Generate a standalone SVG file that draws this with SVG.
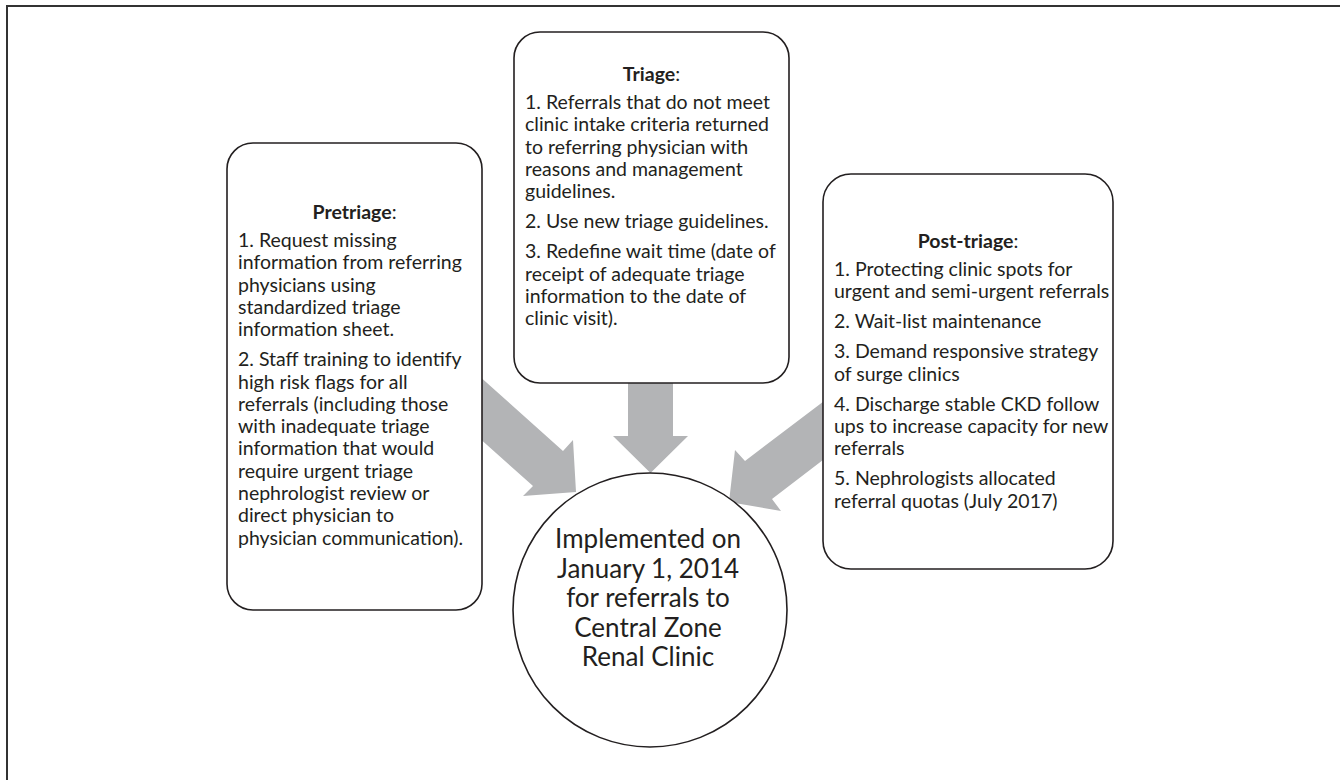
<svg xmlns="http://www.w3.org/2000/svg" width="1340" height="780" viewBox="0 0 1340 780">
<style>
.box{fill:#fff;stroke:#231f20;stroke-width:1.6}
.arr{fill:#b3b4b6;stroke:none}
.t{font-family:Lato,"Open Sans","Liberation Sans",sans-serif;font-size:19.5px;fill:#231f20}
.h{text-anchor:middle}
.b{font-weight:bold}
.c{font-family:Lato,"Open Sans","Liberation Sans",sans-serif;font-size:26px;fill:#231f20;text-anchor:middle}
.frame{stroke:#333;stroke-width:2;fill:none}
</style>
<rect width="1340" height="780" fill="#fff"/>
<path class="frame" d="M7,780 V6 H1340"/>
<g id="connectors">
<polygon class="arr" points="468,366 563,451 573,440 576,492 523,496 533,486 468,428"/>
<polygon class="arr" points="628,370 673,370 673,436 688,436 650.5,473 613,436 628,436"/>
<polygon class="arr" points="836,392 745,461 735,450 729,502 781,511 772,499 836,450"/>
</g>
<g id="pretriage">
<rect class="box" x="227" y="143" width="255" height="467" rx="26"/>
<text class="t h" x="354.5" y="219"><tspan class="b">Pretriage</tspan>:</text>
<text class="t" x="238" y="247">1. Request missing</text>
<text class="t" x="238" y="269.3">information from referring</text>
<text class="t" x="238" y="291.6">physicians using</text>
<text class="t" x="238" y="313.9">standardized triage</text>
<text class="t" x="238" y="336.2">information sheet.</text>
<text class="t" x="238" y="366.2">2. Staff training to identify</text>
<text class="t" x="238" y="388.5">high risk flags for all</text>
<text class="t" x="238" y="410.8">referrals (including those</text>
<text class="t" x="238" y="433.1">with inadequate triage</text>
<text class="t" x="238" y="455.4">information that would</text>
<text class="t" x="238" y="477.7">require urgent triage</text>
<text class="t" x="238" y="500">nephrologist review or</text>
<text class="t" x="238" y="522.3">direct physician to</text>
<text class="t" x="238" y="544.6">physician communication).</text>
</g>
<g id="triage">
<rect class="box" x="514" y="32" width="275" height="351" rx="26"/>
<text class="t h" x="651.5" y="81"><tspan class="b">Triage</tspan>:</text>
<text class="t" x="525" y="109">1. Referrals that do not meet</text>
<text class="t" x="525" y="131.3">clinic intake criteria returned</text>
<text class="t" x="525" y="153.6">to referring physician with</text>
<text class="t" x="525" y="175.9">reasons and management</text>
<text class="t" x="525" y="198.2">guidelines.</text>
<text class="t" x="525" y="228.2">2. Use new triage guidelines.</text>
<text class="t" x="525" y="258.2">3. Redefine wait time (date of</text>
<text class="t" x="525" y="280.5">receipt of adequate triage</text>
<text class="t" x="525" y="302.8">information to the date of</text>
<text class="t" x="525" y="325.1">clinic visit).</text>
</g>
<g id="posttriage">
<rect class="box" x="823" y="174" width="290" height="395" rx="28"/>
<text class="t h" x="968" y="248"><tspan class="b">Post-triage</tspan>:</text>
<text class="t" x="834" y="276">1. Protecting clinic spots for</text>
<text class="t" x="834" y="298.3">urgent and semi-urgent referrals</text>
<text class="t" x="834" y="328.3">2. Wait-list maintenance</text>
<text class="t" x="834" y="358.3">3. Demand responsive strategy</text>
<text class="t" x="834" y="380.6">of surge clinics</text>
<text class="t" x="834" y="410.6">4. Discharge stable CKD follow</text>
<text class="t" x="834" y="432.9">ups to increase capacity for new</text>
<text class="t" x="834" y="455.2">referrals</text>
<text class="t" x="834" y="485.2">5. Nephrologists allocated</text>
<text class="t" x="834" y="507.5">referral quotas (July 2017)</text>
</g>
<g id="implemented">
<circle class="box" cx="650" cy="610" r="137"/>
<text class="c" x="648" y="548">Implemented on</text>
<text class="c" x="648" y="577.5">January 1, 2014</text>
<text class="c" x="648" y="607">for referrals to</text>
<text class="c" x="648" y="636.5">Central Zone</text>
<text class="c" x="648" y="666">Renal Clinic</text>
</g>
</svg>
